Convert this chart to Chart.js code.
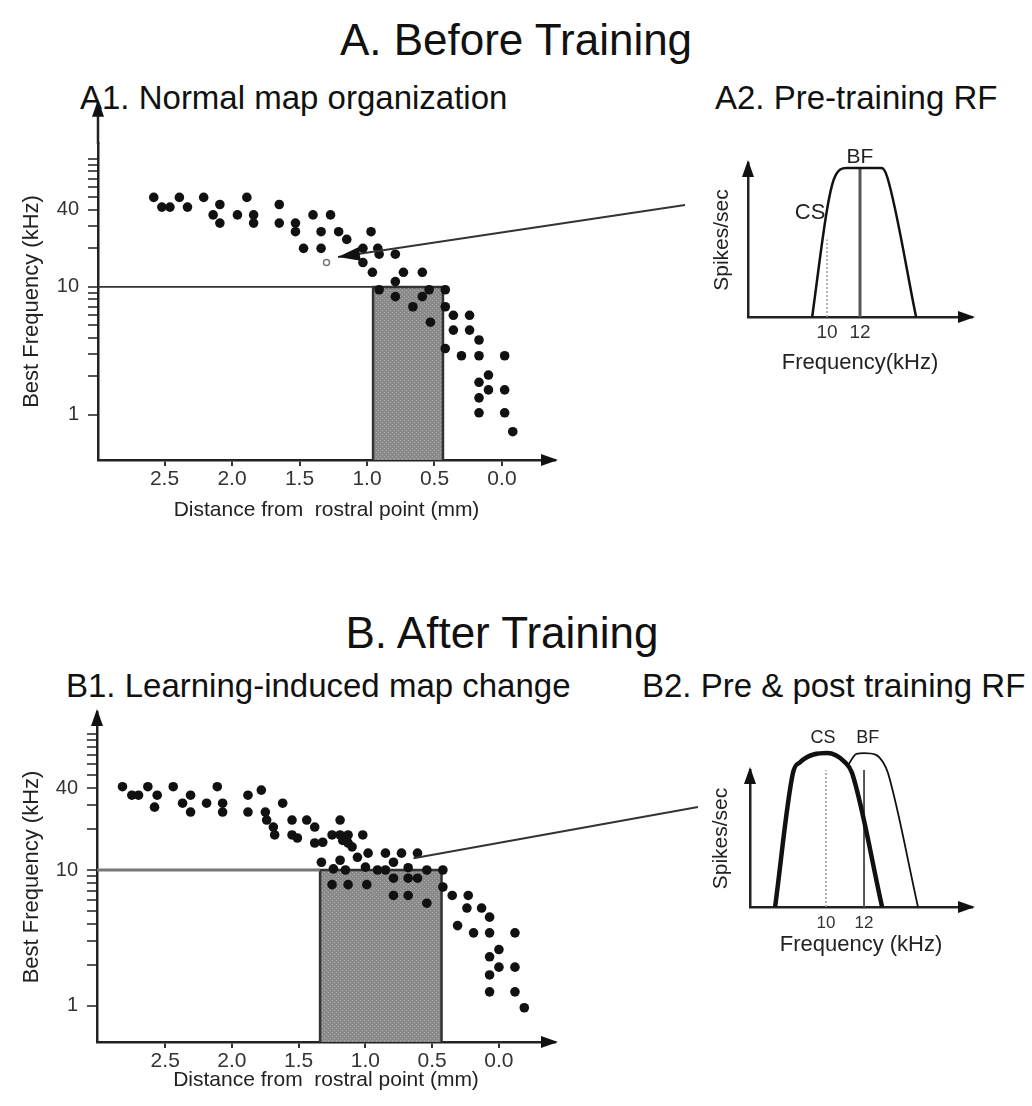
<!DOCTYPE html>
<html>
<head>
<meta charset="utf-8">
<script src="https://cdn.jsdelivr.net/npm/chart.js@4.4.0/dist/chart.umd.min.js"></script>
<style>
  body { margin: 0; background: #fff; }
  #page { position: relative; width: 1032px; height: 1106px; overflow: hidden;
          font-family: 'Liberation Sans', Arial, sans-serif; color: #111; }
  .head, .sub { position: absolute; white-space: nowrap; line-height: 1; }
  .head { font-size: 44px; transform: translate(-50%, -50%); }
  .sub { font-size: 33px; transform: translateY(-50%); }
  canvas { position: absolute; }
</style>
</head>
<body>
<div id="page">
  <div class="head" style="left:516px;top:40px">A. Before Training</div>
  <div class="sub" style="left:80px;top:97px">A1. Normal map organization</div>
  <div class="sub" style="left:715px;top:97px">A2. Pre-training RF</div>
  <div class="head" style="left:502px;top:633px">B. After Training</div>
  <div class="sub" style="left:66px;top:685px">B1. Learning-induced map change</div>
  <div class="sub" style="left:642px;top:685px">B2. Pre &amp; post training RF</div>

  <canvas id="mapA" width="700" height="540" style="left:0;top:0"></canvas>
  <canvas id="rfA" width="332" height="280" style="left:700px;top:110px"></canvas>
  <canvas id="mapB" width="700" height="506" style="left:0;top:600px"></canvas>
  <canvas id="rfB" width="332" height="280" style="left:700px;top:690px"></canvas>
</div>

<script>
const FONT = "'Liberation Sans', Arial, sans-serif";
Chart.defaults.font.family = FONT;
Chart.defaults.color = '#222';

// axis ticks
const distTicks = [2.5, 2.0, 1.5, 1.0, 0.5, 0.0];          // mm from rostral point
const freqLabels = [1, 10, 40];                           // kHz, labelled
const freqMinor = [2, 3, 4, 5, 6, 7, 8, 9, 20, 30, 50, 60, 70, 80, 90, 100, 200];
const rfTicks = [10, 12];
const bandTop = 10;                                       // kHz, top of shaded band

// best frequency vs distance, before training  [mm, kHz]
const beforeDots = [
  [2.58, 50], [2.52, 42], [2.46, 42], [2.39, 50], [2.33, 42], [2.21, 50], [2.09, 44],
  [2.14, 36.5], [2.09, 31.5], [1.96, 36.5], [1.89, 50], [1.84, 36.5], [1.84, 31.5],
  [1.65, 44], [1.65, 31.5], [1.53, 31.5], [1.53, 27], [1.47, 20], [1.40, 36.5],
  [1.34, 27], [1.34, 20], [1.27, 36.5], [1.21, 27], [1.15, 23.5], [0.97, 27],
  [1.03, 20], [1.03, 15.5], [0.96, 13], [0.92, 20], [0.91, 18], [0.79, 18],
  [0.73, 13], [0.59, 13], [0.79, 11], [0.79, 8.4], [0.91, 9.5], [0.66, 7], [0.59, 8.4],
  [0.54, 9.5], [0.53, 5.3], [0.42, 9.5], [0.42, 7], [0.42, 3.3], [0.36, 6], [0.36, 4.6],
  [0.24, 6], [0.24, 4.6], [0.30, 2.9], [0.17, 3.85], [0.17, 2.9], [0.10, 2.05],
  [0.17, 1.8], [0.10, 1.57], [0.17, 1.36], [0.17, 1.04], [-0.02, 2.9], [-0.02, 1.57],
  [-0.02, 1.04], [-0.08, 0.74]
];
const beforeOpen = [[1.30, 15.5]];
const beforeBand = [0.955, 0.437];
const beforeLinkFrom = [1.215, 17.1];

// best frequency vs distance, after training  [mm, kHz]
const afterDots = [
  [2.82, 41], [2.75, 35.5], [2.70, 35.5], [2.63, 41], [2.56, 35.5], [2.58, 29], [2.44, 41],
  [2.31, 35.5], [2.37, 31], [2.31, 26.7], [2.19, 31], [2.11, 41], [2.07, 31], [2.07, 26.7],
  [1.88, 35.5], [1.88, 26.7], [1.78, 38.7], [1.75, 26.7], [1.74, 23.3], [1.62, 31],
  [1.69, 20.7], [1.68, 18.1], [1.55, 23.3], [1.55, 18.1], [1.51, 17.2], [1.44, 23.3],
  [1.38, 20.7], [1.38, 15.8], [1.32, 16], [1.25, 18.1], [1.19, 23.3], [1.19, 18.1],
  [1.17, 16.5], [1.13, 18.1], [1.13, 15.8], [1.10, 14.8], [1.02, 18.1],
  [1.33, 11.4], [1.19, 11.8], [1.06, 12.4], [0.98, 13.3], [0.85, 13.3], [0.73, 13.3],
  [0.61, 13.3], [0.79, 11.4], [1.15, 10], [1.24, 10.2], [1.00, 10.5], [0.91, 10],
  [0.85, 10], [0.68, 10.4], [0.54, 10], [0.42, 10],
  [1.25, 7.8], [1.13, 7.8], [0.99, 7.8], [0.79, 8.7], [0.79, 6.5], [0.68, 8.7], [0.68, 6.5],
  [0.61, 8.7], [0.54, 5.7], [0.42, 7.5], [0.35, 6.5], [0.23, 6.5], [0.24, 5.25],
  [0.13, 5.25], [0.07, 4.5], [0.31, 3.9], [0.19, 3.45], [0.07, 3.45], [-0.12, 3.45],
  [0.00, 2.6], [0.07, 2.3], [0.00, 1.93], [0.07, 1.69], [-0.12, 1.93], [0.07, 1.27],
  [-0.12, 1.27], [-0.19, 0.97]
];
const afterBand = [1.34, 0.43];
const afterLinkFrom = [0.64, 12.2];

// receptive fields  [kHz, spikes/sec]
const rfPre = [[9.1, 0], [10, 72], [10.4, 92], [11.2, 100], [13.3, 100], [13.65, 94], [15.4, 0]];
const rfPost = [[7.32, 0], [8.26, 87], [8.63, 94], [10.05, 100], [11.0, 94], [11.37, 87], [12.95, 0]];
const rfPreShown = [[11.15, 92], [11.6, 99.5], [12, 100], [12.6, 99], [13.0, 94], [13.26, 87], [14.84, 0]];
const csFreq = 10, bfFreq = 12;

const pts = arr => arr.map(([x, y]) => ({ x, y }));

function stipple() {
  const c = document.createElement('canvas');
  c.width = 4; c.height = 4;
  const g = c.getContext('2d');
  g.fillStyle = '#8a8a8a'; g.fillRect(0, 0, 4, 4);
  g.fillStyle = '#aaaaaa'; g.fillRect(0, 0, 1, 1); g.fillRect(2, 2, 1, 1);
  return g.createPattern(c, 'repeat');
}

// filled arrow heads at the end of both axes; the y axis may run past the plot top
const axisArrows = {
  id: 'axisArrows',
  afterDraw(chart, args, opts) {
    const { ctx, chartArea: a, scales: { y } } = chart;
    const yTip = opts.yTip != null ? y.getPixelForValue(opts.yTip) : a.top;
    ctx.save();
    if (yTip < a.top) {
      ctx.strokeStyle = '#222';
      ctx.lineWidth = 2.5;
      ctx.beginPath();
      ctx.moveTo(a.left, a.top + 1);
      ctx.lineTo(a.left, yTip + 10);
      ctx.stroke();
    }
    ctx.fillStyle = '#111';
    ctx.beginPath();
    ctx.moveTo(a.left, yTip - 3);
    ctx.lineTo(a.left - 6, yTip + 14);
    ctx.lineTo(a.left + 6, yTip + 14);
    ctx.closePath();
    ctx.fill();
    ctx.beginPath();
    ctx.moveTo(a.right + 3, a.bottom);
    ctx.lineTo(a.right - 14, a.bottom - 6);
    ctx.lineTo(a.right - 14, a.bottom + 6);
    ctx.closePath();
    ctx.fill();
    ctx.restore();
  }
};

// text labels at data positions and the leader line to the RF panel
const annotate = {
  id: 'annotate',
  afterDatasetsDraw(chart, args, opts) {
    const { ctx, scales: { x, y } } = chart;
    ctx.save();
    (opts.labels || []).forEach(l => {
      ctx.font = (l.size || 20) + 'px ' + FONT;
      ctx.fillStyle = '#222';
      ctx.textAlign = 'center';
      ctx.textBaseline = 'middle';
      ctx.fillText(l.text, x.getPixelForValue(l.x), y.getPixelForValue(l.y));
    });
    if (opts.link) {
      const x0 = x.getPixelForValue(opts.link.from[0]);
      const y0 = y.getPixelForValue(opts.link.from[1]);
      const [x1, y1] = opts.link.to;
      ctx.strokeStyle = '#333';
      ctx.lineWidth = 2;
      ctx.beginPath();
      ctx.moveTo(x0, y0);
      ctx.lineTo(x1, y1);
      ctx.stroke();
      if (opts.link.head) {
        const ang = Math.atan2(y1 - y0, x1 - x0);
        const L = 22, W = 7;
        const bx = x0 + Math.cos(ang) * L, by = y0 + Math.sin(ang) * L;
        ctx.fillStyle = '#111';
        ctx.beginPath();
        ctx.moveTo(x0, y0);
        ctx.lineTo(bx - Math.sin(ang) * W, by + Math.cos(ang) * W);
        ctx.lineTo(bx + Math.sin(ang) * W, by - Math.cos(ang) * W);
        ctx.closePath();
        ctx.fill();
      }
    }
    ctx.restore();
  }
};

function mapChart(id, o) {
  const datasets = [
    { data: pts(o.dots), backgroundColor: '#111', borderWidth: 0, pointRadius: 4.8 }
  ];
  if (o.open) {
    datasets.push({ data: pts(o.open), backgroundColor: '#fff', borderColor: '#777',
                    borderWidth: 1.5, pointRadius: 3 });
  }
  datasets.push(
    { type: 'line', data: [{ x: o.xMax, y: bandTop }, { x: o.band[0], y: bandTop }],
      borderColor: o.refColor, borderWidth: o.refWidth, pointRadius: 0, fill: false },
    { type: 'line',
      data: [{ x: o.band[0], y: o.yMin }, { x: o.band[0], y: bandTop },
             { x: o.band[1], y: bandTop }, { x: o.band[1], y: o.yMin }],
      borderColor: '#333', borderWidth: 2.5, backgroundColor: stipple(),
      pointRadius: 0, fill: 'start' }
  );
  return new Chart(document.getElementById(id), {
    type: 'scatter',
    data: { datasets },
    plugins: [axisArrows, annotate],
    options: {
      responsive: false,
      animation: false,
      layout: { padding: o.pad },
      plugins: {
        legend: { display: false },
        tooltip: { enabled: false },
        axisArrows: { yTip: o.yTip },
        annotate: { link: o.link }
      },
      scales: {
        x: {
          type: 'linear', reverse: true, min: o.xMin, max: o.xMax,
          afterBuildTicks: s => { s.ticks = distTicks.map(v => ({ value: v })); },
          afterFit: s => { s.height = o.xAxisH; },
          ticks: { callback: v => v.toFixed(1), font: { size: 21 }, color: '#333',
                   padding: 1, maxRotation: 0, autoSkip: false },
          grid: { drawOnChartArea: false, tickLength: 6, color: '#333', lineWidth: 2 },
          border: { color: '#222', width: 2.5 },
          title: { display: true, text: 'Distance from  rostral point (mm)',
                   font: { size: 21 }, color: '#222', padding: { top: 0, bottom: 4 } }
        },
        y: {
          type: 'logarithmic', min: o.yMin, max: o.yMax,
          afterBuildTicks: s => {
            s.ticks = freqLabels.concat(freqMinor)
              .filter(v => v >= o.yMin && v <= o.yMax)
              .sort((a, b) => a - b)
              .map(v => ({ value: v }));
          },
          afterFit: s => { s.width = o.yAxisW; },
          ticks: { callback: v => freqLabels.includes(v) ? String(v) : '',
                   font: { size: 20 }, color: '#333', padding: 9, autoSkip: false },
          grid: { drawOnChartArea: false, tickLength: 10, color: '#555', lineWidth: 2 },
          border: { color: '#222', width: 2.5 },
          title: { display: true, text: 'Best Frequency (kHz)', font: { size: 22 },
                   color: '#222', padding: { top: 19, bottom: 0 } }
        }
      }
    }
  });
}

function rfChart(id, o) {
  const guides = [
    { data: pts([[csFreq, 0], [csFreq, o.csTop]]), borderColor: '#999', borderWidth: 1.5,
      borderDash: [2, 2], pointRadius: 0 },
    { data: pts([[bfFreq, 0], [bfFreq, 100]]), borderColor: '#555', borderWidth: o.bfWidth,
      pointRadius: 0 }
  ];
  const curves = o.curves.map(c => ({
    data: pts(c.data), borderColor: '#111', borderWidth: c.width, pointRadius: 0,
    cubicInterpolationMode: 'monotone', clip: false
  }));
  return new Chart(document.getElementById(id), {
    type: 'line',
    data: { datasets: curves.concat(guides) },
    plugins: [axisArrows, annotate],
    options: {
      responsive: false,
      animation: false,
      layout: { padding: o.pad },
      plugins: {
        legend: { display: false },
        tooltip: { enabled: false },
        axisArrows: { yTip: o.yTip },
        annotate: { labels: o.labels }
      },
      scales: {
        x: {
          type: 'linear', min: o.xMin, max: o.xMax,
          afterBuildTicks: s => { s.ticks = rfTicks.map(v => ({ value: v })); },
          afterFit: s => { s.height = o.xAxisH; },
          ticks: { font: { size: o.tickSize }, color: '#333', padding: o.tickPad,
                   maxRotation: 0, autoSkip: false },
          grid: { display: false, drawTicks: false },
          border: { color: '#222', width: 2.5 },
          title: { display: true, text: o.xTitle, font: { size: 22 }, color: '#222',
                   padding: { top: 0, bottom: 4 } }
        },
        y: {
          min: 0, max: o.yMax,
          afterFit: s => { s.width = o.yAxisW; },
          ticks: { display: false },
          grid: { display: false, drawTicks: false },
          border: { color: '#222', width: 2.5 },
          title: { display: true, text: 'Spikes/sec', font: { size: 21 }, color: '#222',
                   padding: { top: o.yTitlePad, bottom: 0 } }
        }
      }
    }
  });
}

mapChart('mapA', {
  dots: beforeDots, open: beforeOpen, band: beforeBand,
  xMin: -0.393, xMax: 2.993, yMin: 0.445, yMax: 133, yTip: 274,
  pad: { left: 0, top: 143, right: 145, bottom: 13 }, xAxisH: 67, yAxisW: 98,
  refColor: '#333', refWidth: 1.8,
  link: { from: beforeLinkFrom, to: [685, 205], head: true }
});

rfChart('rfA', {
  curves: [{ data: rfPre, width: 2.5 }],
  csTop: 52, bfWidth: 3,
  xMin: 5.21, xMax: 18.79, yMax: 103.4,
  pad: { left: 0, top: 53, right: 60, bottom: 10 }, xAxisH: 63, yAxisW: 48,
  tickSize: 19, tickPad: 4, yTitlePad: 10, xTitle: 'Frequency(kHz)',
  labels: [{ text: 'CS', x: 8.97, y: 70, size: 22 }, { text: 'BF', x: 12, y: 107.4, size: 21 }]
});

mapChart('mapB', {
  dots: afterDots, band: afterBand,
  xMin: -0.42, xMax: 3.011, yMin: 0.543, yMax: 145.3,
  pad: { left: 0, top: 112, right: 145, bottom: 9 }, xAxisH: 55, yAxisW: 97,
  refColor: '#777', refWidth: 3,
  link: { from: afterLinkFrom, to: [698, 207], head: false }
});

rfChart('rfB', {
  curves: [{ data: rfPost, width: 4.5 }, { data: rfPreShown, width: 1.8 }],
  csTop: 100, bfWidth: 2,
  xMin: 6.0, xMax: 17.68, yMax: 89, yTip: 89,
  pad: { left: 0, top: 80, right: 60, bottom: 8 }, xAxisH: 55, yAxisW: 50,
  tickSize: 17, tickPad: 6, yTitlePad: 9, xTitle: 'Frequency (kHz)',
  labels: [{ text: 'CS', x: 9.84, y: 110, size: 18 }, { text: 'BF', x: 12.2, y: 110, size: 18 }]
});
</script>
</body>
</html>
